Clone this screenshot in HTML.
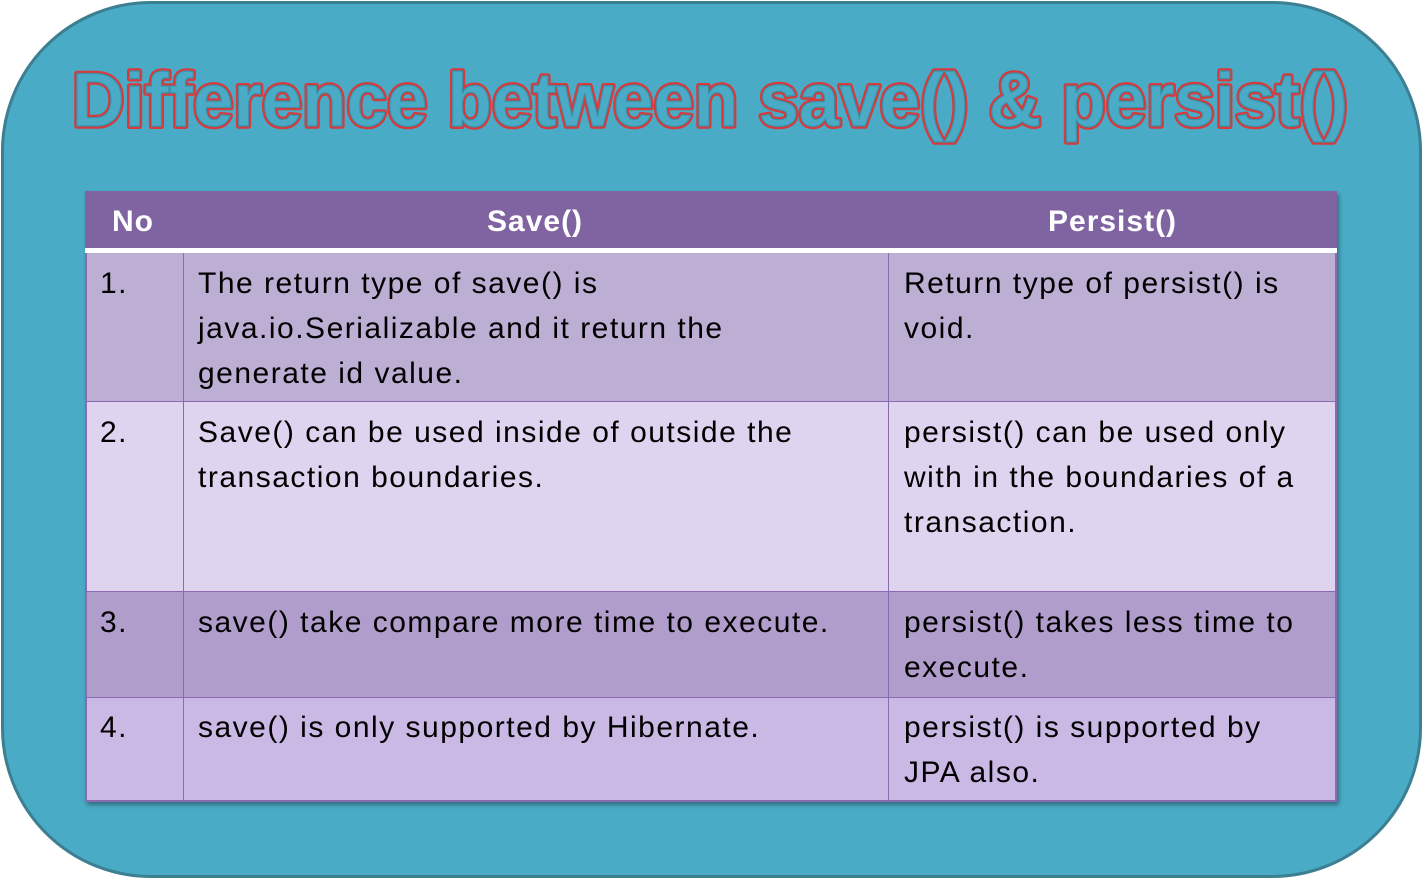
<!DOCTYPE html>
<html><head><meta charset="utf-8"><style>
html,body{margin:0;padding:0;background:#fff;width:1422px;height:878px;overflow:hidden}
.frame{position:absolute;left:1px;top:1px;width:1415px;height:871px;background:#4aabc6;border:3px solid #3b7f91;border-radius:150px}
.t{position:absolute;font-family:"Liberation Sans",sans-serif;color:#000;font-size:30px;letter-spacing:1.5px;line-height:45px;white-space:nowrap}
.h{position:absolute;font-family:"Liberation Sans",sans-serif;color:#fff;font-weight:bold;font-size:30px;letter-spacing:1px;top:205px;white-space:nowrap}
.r{position:absolute;left:85px;width:1252px}
.v{position:absolute;top:253px;height:548px;width:1px;background:#8a6bb0}
</style></head><body>
<div class="frame"></div>
<svg style="position:absolute;left:0;top:0" width="1422" height="878">
<text x="72" y="126" textLength="1276" lengthAdjust="spacingAndGlyphs" font-family="Liberation Sans, sans-serif" font-size="76" font-weight="bold" fill="#4aabc6" stroke="#d8393a" stroke-width="5.5" paint-order="stroke" stroke-linejoin="round">Difference between save() &amp; persist()</text>
<text x="72" y="126" textLength="1276" lengthAdjust="spacingAndGlyphs" font-family="Liberation Sans, sans-serif" font-size="76" font-weight="bold" fill="#4aabc6" stroke="#3d8ea6" stroke-width="1.2">Difference between save() &amp; persist()</text>
</svg>
<div style="position:absolute;left:85px;top:191px;width:1252px;height:611px;box-shadow:2px 3px 4px rgba(0,0,0,0.35)"></div>
<div class="r" style="top:191px;height:57px;background:#8064a2"></div>
<div class="r" style="top:248px;height:5px;background:#fff"></div>
<div class="r" style="top:253px;height:148px;background:#bdaed4"></div>
<div class="r" style="top:401px;height:190px;background:#dfd4ef;border-top:1px solid #8a6bb0;box-sizing:border-box"></div>
<div class="r" style="top:591px;height:106px;background:#b09dcb;border-top:1px solid #8a6bb0;box-sizing:border-box"></div>
<div class="r" style="top:697px;height:105px;background:#cab8e5;border-top:1px solid #8a6bb0;border-bottom:2px solid #8a6bb0;box-sizing:border-box"></div>
<div style="position:absolute;left:85px;top:253px;width:1252px;height:549px;border-left:2px solid #8a6bb0;border-right:2px solid #8a6bb0;box-sizing:border-box"></div>
<div class="v" style="left:183px"></div>
<div class="v" style="left:888px"></div>
<div class="h" style="left:112px">No</div>
<div class="h" style="left:487px">Save()</div>
<div class="h" style="left:1048px">Persist()</div>
<div class="t" style="left:100px;top:261px">1.</div>
<div class="t" style="left:198px;top:261px">The return type of save() is<br>java.io.Serializable and it return the<br>generate id value.</div>
<div class="t" style="left:904px;top:261px">Return type of persist() is<br>void.</div>
<div class="t" style="left:100px;top:410px">2.</div>
<div class="t" style="left:198px;top:410px">Save() can be used inside of outside the<br>transaction boundaries.</div>
<div class="t" style="left:904px;top:410px">persist() can be used only<br>with in the boundaries of a<br>transaction.</div>
<div class="t" style="left:100px;top:600px">3.</div>
<div class="t" style="left:198px;top:600px">save() take compare more time to execute.</div>
<div class="t" style="left:904px;top:600px">persist() takes less time to<br>execute.</div>
<div class="t" style="left:100px;top:705px">4.</div>
<div class="t" style="left:198px;top:705px">save() is only supported by Hibernate.</div>
<div class="t" style="left:904px;top:705px">persist() is supported by<br>JPA also.</div>
</body></html>
